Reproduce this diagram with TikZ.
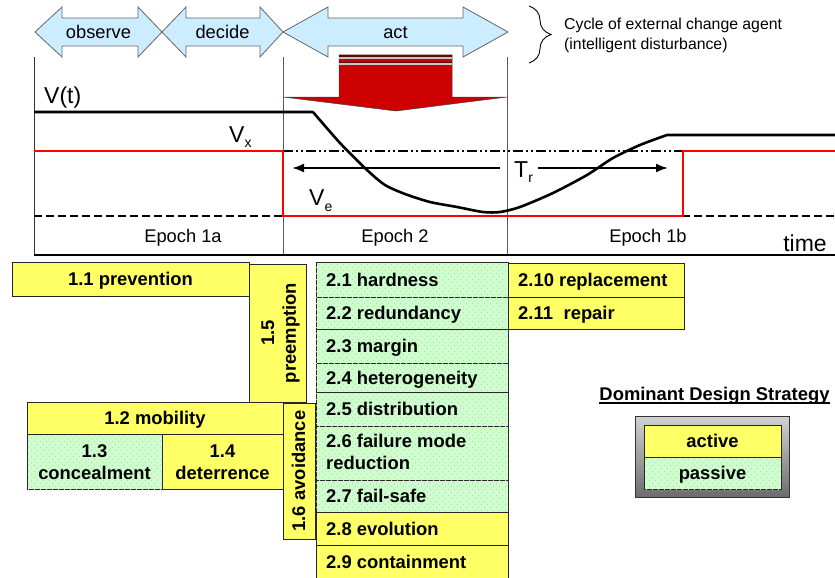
\documentclass[tikz,border=0pt]{standalone}
\usepackage{fontspec}
\setmainfont{Liberation Sans}
\usetikzlibrary{arrows.meta,decorations.pathreplacing,patterns}

\definecolor{skyfill}{HTML}{CCECFF}
\definecolor{actfill}{HTML}{FFFF66}
\definecolor{pasfill}{HTML}{CCFFCC}
\definecolor{boltred}{HTML}{CC0000}
\definecolor{boltdark}{HTML}{5A0A0A}
\definecolor{limitred}{HTML}{FF0000}

% sparse speckle laid over the passive cells
\pgfdeclarepatternformonly{passivemarks}{\pgfqpoint{-1pt}{-1pt}}{\pgfqpoint{7pt}{7pt}}{\pgfqpoint{6pt}{6pt}}{%
  \pgfpathcircle{\pgfqpoint{1.5pt}{1.5pt}}{0.55pt}%
  \pgfpathcircle{\pgfqpoint{4.5pt}{4.5pt}}{0.55pt}%
  \pgfusepath{fill}}

\newcommand\boxfont{\fontsize{18.4}{21.8}\selectfont\bfseries}
\newcommand\plotfont{\fontsize{18.3}{22}\selectfont}
\newcommand\notefont{\fontsize{15.8}{20}\selectfont}
\newcommand\bigfont{\fontsize{23}{26}\selectfont}
\newcommand\subfont{\fontsize{14}{16}\selectfont}

% double-headed block arrow: left tip, left head base, right head base, right tip
\newcommand\twohead[4]{%
  \draw[skyarrow] (#1,32) -- (#2,7) -- (#2,18) -- (#3,18) -- (#3,7) -- (#4,32)
    -- (#3,57) -- (#3,46) -- (#2,46) -- (#2,57) -- cycle;}

\begin{document}
\begin{tikzpicture}[x=1pt, y=-1pt,
  skyarrow/.style={draw=gray!80!black, line width=0.8pt, fill=skyfill, line join=miter},
  plotlbl/.style={font=\plotfont, inner sep=0pt},
  biglbl/.style={font=\bigfont, inner sep=0pt},
  lbl/.style={font=\boxfont, inner sep=0pt},
  gridline/.style={draw=gray!70!black, line width=0.8pt},
  valueline/.style={black, line width=2.6pt, line join=round},
  limitline/.style={limitred, line width=2pt},
  floorline/.style={black, line width=1.6pt, dash pattern=on 8pt off 4pt},
  ddotline/.style={black, line width=1.3pt, dash pattern=on 10pt off 3pt on 2pt off 3pt on 2pt off 3pt},
  trarrow/.style={black, line width=2pt, -{Latex[length=12pt,width=9pt]}},
  yb/.style={draw=black!85, line width=0.8pt, fill=actfill},
  gb/.style={draw=black!85, line width=0.8pt, fill=pasfill,
             postaction={pattern=passivemarks, pattern color=gray!40}}
]
\useasboundingbox (0,0) rectangle (835,578);

% ---- cycle of the change agent ----
\twohead{35}{62}{138}{162}
\twohead{162}{186}{260}{283}
\twohead{283}{328}{463}{508}
\node[plotlbl, anchor=base] (observe) at (98.5,38.5) {observe};
\node[plotlbl, anchor=base] (decide) at (222.5,38.5) {decide};
\node[plotlbl, anchor=base] (act) at (395.5,38.5) {act};

\draw[line width=0.9pt, decorate, decoration={brace, amplitude=22pt, aspect=0.5}] (529,6) -- (529,63);
\node[font=\notefont, inner sep=0pt, anchor=base west] (cycle1) at (564,30) {Cycle of external change agent};
\node[font=\notefont, inner sep=0pt, anchor=base west] (cycle2) at (564,50) {(intelligent disturbance)};

% ---- value over time ----
\draw[draw=black!80, line width=0.8pt] (34,57) -- (34,255);
\draw[gridline] (283,57) -- (283,255);
\draw[gridline] (507,57) -- (507,255);
\draw[black, line width=2pt] (34,255) -- (835,255);

\draw[floorline] (34,216) -- (835,216);
\draw[ddotline] (283,151) -- (683,151);
\draw[limitline] (34,151) -- (283,151) -- (283,216) -- (683,216) -- (683,151) -- (835,151);

\draw[valueline] (34,112) -- (313,112)
  plot[smooth, tension=0.45] coordinates {(313,112) (340,143) (367,170) (385,185) (405,194)
     (430,202) (457,207) (483,212) (500,212) (520,207) (553,193) (587,175) (613,158) (640,145) (667,135)}
  -- (835,135);

\coordinate (trleft) at (500,168);
\coordinate (trlefttip) at (292,168);
\coordinate (trright) at (538,168);
\coordinate (trrighttip) at (668,168);
\draw[trarrow] (trleft) -- (trlefttip);
\draw[trarrow] (trright) -- (trrighttip);

\node[biglbl, anchor=base west] (vt) at (44,103) {V(t)};
\node[biglbl, anchor=base west] (vx) at (229,142) {V\raisebox{-5pt}{\subfont x}};
\node[biglbl, anchor=base west] (ve) at (309,205) {V\raisebox{-6pt}{\subfont e}};
\node[biglbl, anchor=base west] (tr) at (514,177) {T\raisebox{-5pt}{\subfont r}};

\node[plotlbl, anchor=base] (ep1a) at (183,242) {Epoch 1a};
\node[plotlbl, anchor=base] (ep2) at (395,242) {Epoch 2};
\node[plotlbl, anchor=base] (ep1b) at (648,242) {Epoch 1b};
\node[biglbl, anchor=base] (time) at (805,251) {time};

% ---- the disturbance striking ----
\draw[fill=boltred, draw=black!75, line width=0.5pt]
  (339,55) -- (452,55) -- (452,97) -- (507,97) -- (396,111) -- (283,97) -- (339,97) -- cycle;
\fill[boltdark] (339,55) rectangle (452,56.8);
\fill[gray!45] (339,56.8) rectangle (452,59);
\fill[boltdark] (339,61.7) rectangle (452,63.3);
\fill[gray!45] (339,63.3) rectangle (452,65);

% ---- design strategies ----
\draw[yb] (12,262) rectangle (249,296);
\node[lbl, anchor=base] (s11) at (130.5,285.6) {1.1 prevention};
\draw[yb] (249,264) rectangle (306,402);
\node[lbl, rotate=90, anchor=base] (s15) at (274,333)
  {\begin{tabular}[t]{@{}c@{}}1.5\\preemption\end{tabular}};
\draw[yb] (27,402) rectangle (283,434);
\node[lbl, anchor=base] (s12) at (155,424.6) {1.2 mobility};
\draw[gb] (27,434) rectangle (162,489);
\node[lbl, anchor=base] (s13) at (94.5,457.3)
  {\begin{tabular}[t]{@{}c@{}}1.3\\concealment\end{tabular}};
\draw[yb] (162,434) rectangle (283,489);
\node[lbl, anchor=base] (s14) at (222.5,457.3)
  {\begin{tabular}[t]{@{}c@{}}1.4\\deterrence\end{tabular}};
\draw[yb] (283,403) rectangle (315,539);
\node[lbl, rotate=90, anchor=base] (s16) at (305,471) {1.6 avoidance};

\draw[gb] (316,262) rectangle (508,297);
\node[lbl, anchor=base west] (s21) at (326,286.1) {2.1 hardness};
\draw[gb] (316,297) rectangle (508,329);
\node[lbl, anchor=base west] (s22) at (326,319.6) {2.2 redundancy};
\draw[gb] (316,329) rectangle (508,363);
\node[lbl, anchor=base west] (s23) at (326,352.6) {2.3 margin};
\draw[gb] (316,363) rectangle (508,392);
\node[lbl, anchor=base west] (s24) at (326,384.1) {2.4 heterogeneity};
\draw[gb] (316,392) rectangle (508,426);
\node[lbl, anchor=base west] (s25) at (326,415.6) {2.5 distribution};
\draw[gb] (316,426) rectangle (508,480);
\node[lbl, anchor=base west] (s26) at (326,447.7)
  {\begin{tabular}[t]{@{}l@{}}2.6 failure mode\\reduction\end{tabular}};
\draw[gb] (316,480) rectangle (508,512);
\node[lbl, anchor=base west] (s27) at (326,502.6) {2.7 fail-safe};
\draw[yb] (316,512) rectangle (508,545);
\node[lbl, anchor=base west] (s28) at (326,535.1) {2.8 evolution};
\draw[yb] (316,545) rectangle (508,580);
\node[lbl, anchor=base west] (s29) at (326,568.1) {2.9 containment};

\draw[yb] (508,263) rectangle (684,297);
\node[lbl, anchor=base west] (s210) at (518,286.6) {2.10 replacement};
\draw[yb] (508,297) rectangle (684,329);
\node[lbl, anchor=base west] (s211) at (518,319.6) {2.11\hspace{0.3em} repair};

% ---- legend ----
\node[lbl, anchor=base] (dds) at (714.5,400.5) {Dominant Design Strategy};
\draw[black, line width=1.5pt] ([yshift=-2.3pt]dds.base west) -- ([yshift=-2.3pt]dds.base east);
\shade[top color=gray!35, bottom color=gray!85!black] (635,416) rectangle (789,497);
\draw[black!80, line width=0.8pt] (635,416) rectangle (789,497);
\draw[yb] (644,425) rectangle (781,457);
\node[lbl, anchor=base] (active) at (712.5,447.6) {active};
\draw[gb] (644,457) rectangle (781,489);
\node[lbl, anchor=base] (passive) at (712.5,479.6) {passive};
\end{tikzpicture}
\end{document}
